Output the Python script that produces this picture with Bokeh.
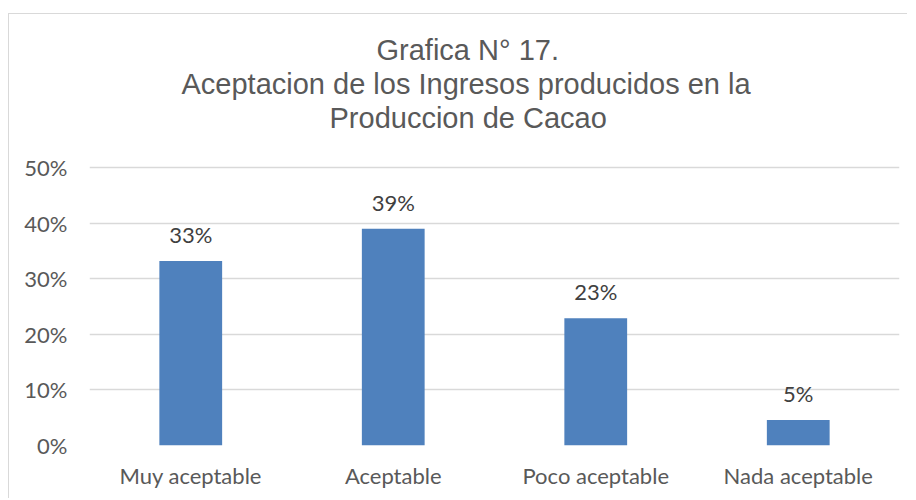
from bokeh.plotting import figure
from bokeh.models import (ColumnDataSource, LabelSet, Title, FactorRange, Range1d,
                          NumeralTickFormatter, FixedTicker)
from bokeh.core.properties import value
from bokeh.embed import file_html
from bokeh.resources import INLINE

# ---- data ----
categories = ["Muy aceptable", "Aceptable", "Poco aceptable", "Nada aceptable"]
values = [0.332, 0.390, 0.229, 0.046]
value_labels = ["33%", "39%", "23%", "5%"]
y_ticks = [0.0, 0.1, 0.2, 0.3, 0.4, 0.5]
title_lines = ["Grafica N° 17.",
               "Aceptacion de los Ingresos producidos en la",
               "Produccion de Cacao"]

src = ColumnDataSource(dict(cat=categories, val=values, lbl=value_labels))

p = figure(x_range=FactorRange(factors=categories), y_range=Range1d(0, 0.5036),
           width=899, height=485, output_backend="svg", toolbar_location=None,
           min_border_left=80, min_border_right=9, min_border_top=151,
           min_border_bottom=54)
p.styles = {"margin-top": "13px", "margin-left": "8px",
            "border-top": "1px solid #d9d9d9",
            "border-left": "1px solid #d9d9d9"}
p.outline_line_color = None
p.background_fill_color = "white"
p.border_fill_color = "white"

p.vbar(x="cat", top="val", width=0.31, source=src, fill_color="#4f81bd",
       line_color=None)

labels = LabelSet(x="cat", y="val", text="lbl", source=src, y_offset=18,
                  text_align="center", text_baseline="alphabetic",
                  text_font=value("Lato"), text_font_size=value("22px"),
                  text_color="#404040")
p.add_layout(labels)

# spacer between title and plot area
p.add_layout(Title(text=" ", text_font_size="18px"), "above")
# title lines (added nearest-to-frame first), left offsets center them at the chart centre
offsets = [287, 92, 240]
for line, off in reversed(list(zip(title_lines, offsets))):
    p.add_layout(Title(text=line, align="left", offset=off, standoff=0,
                       text_font="Liberation Sans", text_font_size="29px",
                       text_font_style="normal", text_color="#595959"), "above")

# axes
p.yaxis.ticker = FixedTicker(ticks=y_ticks)
p.yaxis.formatter = NumeralTickFormatter(format="0%")
for ax in (p.xaxis[0], p.yaxis[0]):
    ax.axis_line_color = None
    ax.major_tick_line_color = None
    ax.minor_tick_line_color = None
    ax.major_tick_in = 0
    ax.major_tick_out = 0
    ax.minor_tick_out = 0
    ax.major_label_text_font = "Lato"
    ax.major_label_text_font_size = "22px"
    ax.major_label_text_color = "#595959"
p.yaxis.major_label_standoff = 22
p.xaxis.major_label_standoff = 16

p.xgrid.grid_line_color = None
p.ygrid.grid_line_color = "#d9d9d9"
p.ygrid.grid_line_width = 1.5

open("out.html", "w").write(file_html(p, INLINE))
